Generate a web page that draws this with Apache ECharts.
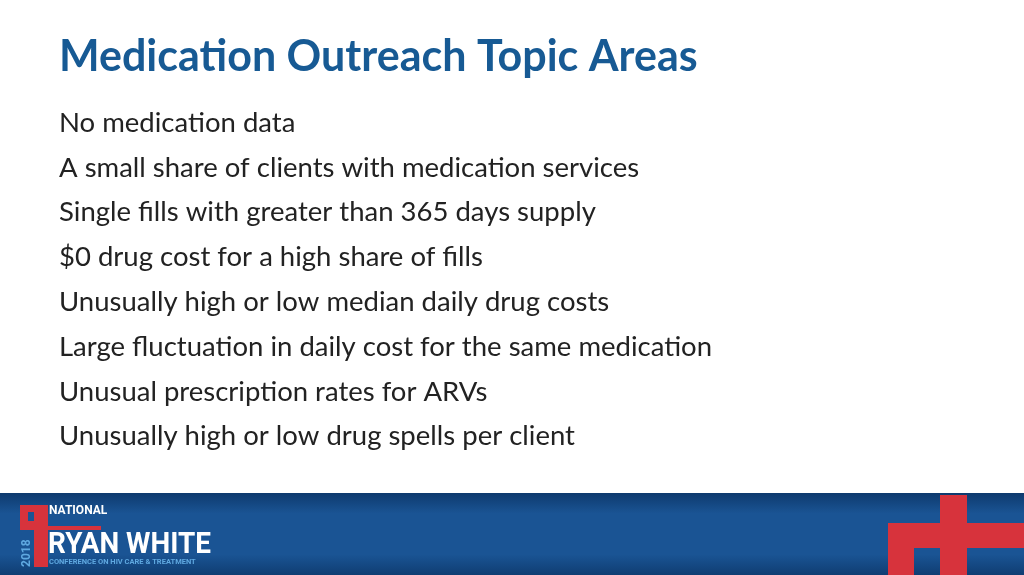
<!DOCTYPE html>
<html><head><meta charset="utf-8">
<script src="https://cdn.jsdelivr.net/npm/echarts@6/dist/echarts.min.js"></script>
<style>html,body{margin:0;padding:0;background:#fff}#c{width:1024px;height:575px}</style>
</head><body><div id="c"></div>
<script>
const titleText = "Medication Outreach Topic Areas";
const items = [
  "No medication data",
  "A small share of clients with medication services",
  "Single fills with greater than 365 days supply",
  "$0 drug cost for a high share of fills",
  "Unusually high or low median daily drug costs",
  "Large fluctuation in daily cost for the same medication",
  "Unusual prescription rates for ARVs",
  "Unusually high or low drug spells per client"
];
const RED = '#d7333c';
const g = [];
g.push({type:'text', left:59, top:36, style:{text:titleText, font:'bold 43px Lato, "Open Sans", sans-serif', fill:'#175a94'}});
items.forEach((t,i)=>{
  g.push({type:'text', left:59, top:109+i*44.8, style:{text:t, font:'27.5px Lato, "Open Sans", sans-serif', fill:'#222'}});
});
g.push({type:'rect', shape:{x:0,y:493,width:1024,height:82}, style:{fill:new echarts.graphic.LinearGradient(0,0,0,1,[{offset:0,color:'#0e3a6e'},{offset:0.25,color:'#1a5494'},{offset:0.75,color:'#1a5494'},{offset:1,color:'#0f3d72'}])}});
g.push({type:'rect', shape:{x:940,y:495,width:27,height:80}, style:{fill:RED}});
g.push({type:'rect', shape:{x:888,y:523,width:136,height:25}, style:{fill:RED}});
g.push({type:'rect', shape:{x:888,y:523,width:26,height:52}, style:{fill:RED}});
g.push({type:'rect', shape:{x:20,y:505,width:28,height:25}, style:{fill:RED}});
g.push({type:'rect', shape:{x:28,y:512,width:12,height:9}, style:{fill:'#1a5494'}});
g.push({type:'rect', shape:{x:34,y:526,width:67,height:4}, style:{fill:RED}});
g.push({type:'rect', shape:{x:34,y:505,width:14,height:62}, style:{fill:RED}});
g.push({type:'text', left:49, top:505, style:{text:'NATIONAL', font:'bold 12px "Roboto", sans-serif', fill:'#fff'}});
g.push({type:'text', x:48, y:530, scaleX:0.93, style:{text:'RYAN WHITE', font:'bold 30px "Roboto", sans-serif', fill:'#fff'}});
g.push({type:'text', left:49, top:558, style:{text:'CONFERENCE ON HIV CARE & TREATMENT', font:'bold 7.5px "Roboto", sans-serif', fill:'#5fa8e0'}});
g.push({type:'text', x:21, y:567, rotation:Math.PI/2, style:{text:'2018', font:'bold 12px "Roboto", sans-serif', fill:'#5fa8e0', align:'left', verticalAlign:'top'}, originX:0, originY:0});
const chart = echarts.init(document.getElementById('c'));
chart.setOption({animation:false, graphic:g});
</script></body></html>
